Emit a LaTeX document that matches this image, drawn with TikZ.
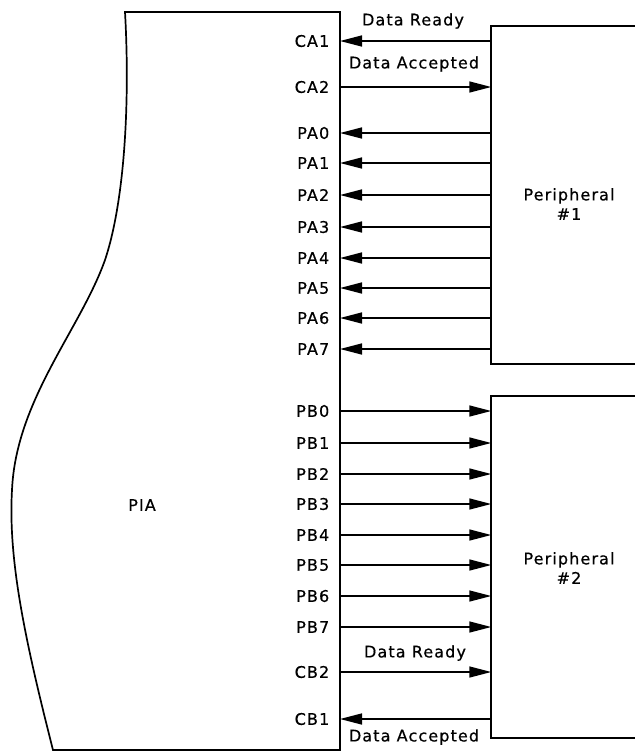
\documentclass[tikz,border=0pt]{standalone}
\usepackage{fontspec}
\setmainfont{DejaVu Sans}[LetterSpace=7,FakeBold=0.6]
\usetikzlibrary{arrows.meta}
\begin{document}
\begin{tikzpicture}[x=1pt,y=-1pt,line width=1.5pt,
  txt/.style={font=\fontsize{16}{19.5}\selectfont, inner sep=0pt},
  pinlbl/.style={txt, anchor=east},
  arr/.style={-{Triangle[length=22pt,width=11pt]}},
  wire/.style={line width=1.5pt}]
\useasboundingbox (0,0) rectangle (635,753);
% PIA outline
\draw[line width=1.7pt] (340,750) -- (53,750)
  .. controls (25,640) and (8,560) .. (12,490)
  .. controls (16,400) and (80,330) .. (105,260)
  .. controls (125,200) and (130,100) .. (125,12)
  -- (340,12) -- cycle;
\node[txt] (pia) at (142,505) {PIA};
% peripheral boxes (open on the right)
\node[minimum width=143pt, minimum height=336pt, inner sep=0pt] (p1) at (563.5,195) {};
\node[minimum width=143pt, minimum height=340pt, inner sep=0pt] (p2) at (563.5,567) {};
\draw[line width=1.7pt] (p1.north east) -- (p1.north west) -- (p1.south west) -- (p1.south east);
\draw[line width=1.7pt] (p2.north east) -- (p2.north west) -- (p2.south west) -- (p2.south east);
\node[txt, align=center] (t1) at (569,204) {Peripheral\\\#1};
\node[txt, align=center] (t2) at (569,568) {Peripheral\\\#2};
% pins
\foreach \n/\y in {CA1/41,CA2/87,PA0/133,PA1/163,PA2/195,PA3/227,PA4/258,PA5/288,PA6/318,PA7/349,
                   PB0/411,PB1/443,PB2/474,PB3/504,PB4/535,PB5/565,PB6/596,PB7/627,CB2/672,CB1/719}{
  \coordinate (e\n) at (340,\y);
  \node[pinlbl] (l\n) at (330,\y) {\n};
}
% inputs to PIA (from peripheral)
\foreach \n in {CA1,PA0,PA1,PA2,PA3,PA4,PA5,PA6,PA7}
  \draw[wire,arr] (p1.west |- e\n) -- (e\n);
\draw[wire,arr] (eCA2) -- (p1.west |- eCA2);
\foreach \n in {PB0,PB1,PB2,PB3,PB4,PB5,PB6,PB7,CB2}
  \draw[wire,arr] (e\n) -- (p2.west |- e\n);
\draw[wire,arr] (p2.west |- eCB1) -- (eCB1);
% handshake labels
\node[txt] (dr1) at (413,21) {Data Ready};
\node[txt] (da1) at (414,64) {Data Accepted};
\node[txt] (dr2) at (415,653) {Data Ready};
\node[txt] (da2) at (414,737) {Data Accepted};
\end{tikzpicture}
\end{document}
